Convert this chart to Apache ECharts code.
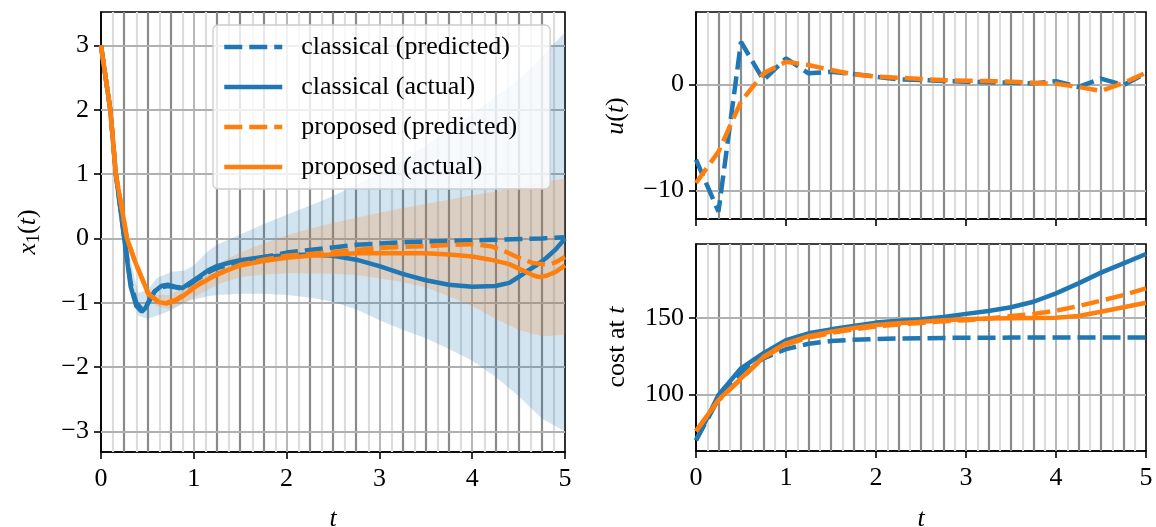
<!DOCTYPE html>
<html><head><meta charset="utf-8">
<script src="https://cdn.jsdelivr.net/npm/echarts@6/dist/echarts.min.js"></script>
<style>html,body{margin:0;padding:0;background:#fff}#c{width:1156px;height:527px}</style>
</head><body><div id="c"></div>
<script>
// ---------- data: left panel x1(t) ----------
const xClassicalActualT = [0,0.1,0.16,0.25,0.32,0.38,0.44,0.48,0.52,0.58,0.65,0.72,0.8,0.88,0.95,1.05,1.15,1.25,1.4,1.5,1.75,2.0,2.25,2.5,2.75,3.0,3.25,3.5,3.75,4.0,4.25,4.4,4.5,4.6,4.7,4.8,4.9,5.0];
const xClassicalActual  = [3,2.0,1.0,0.0,-0.75,-1.05,-1.14,-1.08,-0.97,-0.82,-0.74,-0.72,-0.75,-0.77,-0.7,-0.6,-0.5,-0.43,-0.37,-0.34,-0.29,-0.26,-0.25,-0.27,-0.33,-0.43,-0.55,-0.65,-0.72,-0.75,-0.74,-0.69,-0.6,-0.5,-0.41,-0.3,-0.17,0.0];
const xClassicalPredT = [0,0.1,0.16,0.25,0.32,0.38,0.44,0.5,0.58,0.65,0.72,0.8,0.88,0.95,1.05,1.15,1.25,1.5,1.75,2.0,2.25,2.5,2.75,3.0,3.25,3.5,3.75,4.0,4.25,4.5,4.75,5.0];
const xClassicalPred  = [3,2.0,1.0,0.02,-0.7,-1.0,-1.1,-1.02,-0.82,-0.76,-0.74,-0.76,-0.78,-0.72,-0.62,-0.53,-0.46,-0.36,-0.29,-0.22,-0.18,-0.14,-0.1,-0.08,-0.06,-0.05,-0.04,-0.03,-0.02,-0.01,0.0,0.02];
const xProposedActualT = [0,0.1,0.16,0.2,0.28,0.37,0.45,0.51,0.62,0.71,0.8,0.9,1.0,1.1,1.2,1.35,1.5,1.75,2.0,2.25,2.5,2.75,3.0,3.25,3.5,3.75,4.0,4.2,4.4,4.55,4.65,4.72,4.8,4.9,5.0];
const xProposedActual  = [3,2.0,1.0,0.67,0.0,-0.37,-0.65,-0.86,-0.99,-1.01,-0.97,-0.88,-0.77,-0.68,-0.6,-0.5,-0.42,-0.35,-0.3,-0.27,-0.25,-0.23,-0.23,-0.23,-0.23,-0.25,-0.28,-0.33,-0.4,-0.5,-0.57,-0.6,-0.58,-0.52,-0.42];
const xProposedPredT = [0,0.1,0.16,0.2,0.28,0.37,0.45,0.51,0.62,0.71,0.8,0.9,1.0,1.1,1.2,1.35,1.5,1.75,2.0,2.25,2.5,2.75,3.0,3.25,3.5,3.75,4.0,4.2,4.35,4.5,4.65,4.8,4.9,5.0];
const xProposedPred  = [3,2.0,1.0,0.67,0.0,-0.37,-0.65,-0.86,-0.98,-1.0,-0.96,-0.87,-0.76,-0.67,-0.59,-0.49,-0.41,-0.33,-0.27,-0.24,-0.21,-0.18,-0.15,-0.13,-0.12,-0.1,-0.09,-0.12,-0.2,-0.3,-0.38,-0.41,-0.37,-0.29];
// uncertainty bands
const bandT = [0,0.25,0.4,0.5,0.6,0.75,0.9,1.0,1.15,1.25,1.5,1.75,2,2.25,2.5,2.75,3,3.25,3.5,3.75,4,4.25,4.5,4.75,5];
const classicalLower = [3,-0.1,-1.2,-1.25,-1.2,-1.12,-1.0,-0.95,-0.9,-0.88,-0.86,-0.86,-0.88,-0.92,-0.99,-1.1,-1.27,-1.42,-1.55,-1.72,-1.9,-2.15,-2.45,-2.8,-3.0];
const classicalUpper = [3,0.1,-0.85,-0.8,-0.62,-0.52,-0.5,-0.42,-0.2,-0.1,0.06,0.22,0.37,0.51,0.66,0.83,1.02,1.22,1.45,1.69,1.94,2.2,2.47,2.82,3.21];
const proposedLower = [3,-0.05,-0.58,-0.93,-1.06,-1.1,-1.0,-0.92,-0.8,-0.72,-0.6,-0.56,-0.54,-0.54,-0.55,-0.57,-0.62,-0.68,-0.76,-0.9,-1.05,-1.25,-1.42,-1.52,-1.5];
const proposedUpper = [3,0.15,-0.42,-0.76,-0.88,-0.88,-0.72,-0.62,-0.47,-0.4,-0.22,-0.08,0.05,0.15,0.24,0.32,0.4,0.47,0.54,0.6,0.67,0.73,0.8,0.87,0.93];

// ---------- data: top-right u(t) ----------
const uT = [0,0.25,0.5,0.75,1.0,1.25,1.5,1.75,2.0,2.25,2.5,2.75,3.0,3.25,3.5,3.75,4.0,4.25,4.5,4.75,5.0];
const uClassical = [-7.1,-12.0,4.0,0.4,2.45,1.04,1.19,0.97,0.72,0.47,0.4,0.31,0.25,0.19,0.15,0.09,0.3,-0.25,0.53,-0.07,1.07];
const uProposed  = [-9.3,-6.35,-1.64,1.04,2.13,1.82,1.35,0.95,0.72,0.62,0.5,0.4,0.34,0.31,0.25,0.15,0.05,-0.25,-0.62,0.12,1.1];

// ---------- data: bottom-right cost ----------
const costT = uT;
const costClassicalActual = [70,99.6,117,126.8,135.4,139.8,142.4,144.6,146.8,148,149,150.5,152.5,154.4,156.8,160.4,165.9,172.4,179.4,185.5,191.6];
const costClassicalPred   = [70,97,114,123.5,129.5,133,134.8,135.6,136.1,136.4,136.6,136.8,136.9,136.9,137,137,137,137,137,137,137];
const costProposedActual  = [76,96.3,110.4,124.5,133.3,138,140.9,143.3,145.2,146.4,147.4,148.3,149,149.4,149.6,149.8,150,151.1,153.9,156.8,159.8];
const costProposedPred    = [76,96,110,124,132.5,137,140,142.4,144.3,145.6,146.6,147.6,148.4,149.5,151.1,152.4,154.6,157.6,161.1,164.8,169.2];

// ---------- ticks / time markers ----------
const xTicks = [0,1,2,3,4,5];
const yTicksX1 = [-3,-2,-1,0,1,2,3];
const yTicksU = [-10,0];
const yTicksCost = [100,150];
const darkTimes = [0.25,0.5,0.75,1.25,1.5,1.75,2.25,2.5,2.75,3.25,3.5,3.75,4.25,4.5,4.75];
const lightTimes = [0.125,0.375,0.625,0.875,1.125,1.375,1.625,1.875,2.125,2.375,2.625,2.875,3.125,3.375,3.625,3.875,4.125,4.375,4.625,4.875];
const names = ['classical (predicted)','classical (actual)','proposed (predicted)','proposed (actual)'];

// ---------- helpers ----------
const FONT = '"Liberation Serif", "DejaVu Serif", serif';
const BLUE = '#1f77b4', ORANGE = '#ff7f0e';
const DASH = [18, 7];
const LW = 4.5;
function pairs(ts, vs){ return ts.map((t,i)=>[t, vs[i]]); }
function fmt(v){ return v < 0 ? '\u2212' + Math.abs(v) : String(v); }

const grids = [
  {left:101, top:12, width:464, height:440},
  {left:696, top:12, width:450, height:207},
  {left:696, top:244, width:450, height:207}
].map(g => Object.assign(g, {show:true, borderColor:'#000', borderWidth:1.6, backgroundColor:'transparent', containLabel:false}));

function xAx(i, showLabel){
  return {type:'value', gridIndex:i, min:0, max:5, interval:1,
    axisLine:{show:true, onZero:false, lineStyle:{color:'#000', width:1.6}},
    axisTick:{show:true, length:7, lineStyle:{color:'#000', width:1.6}},
    axisLabel:{show:showLabel, fontSize:26, fontFamily:FONT, color:'#000', margin:14, formatter:fmt},
    splitLine:{show:false}};
}
function yAx(i, min, max, ticks){
  return {type:'value', gridIndex:i, min:min, max:max,
    axisLine:{show:true, onZero:false, lineStyle:{color:'#000', width:1.6}},
    axisTick:{show:true, length:7, lineStyle:{color:'#000', width:1.6}, customValues:ticks},
    axisLabel:{show:true, fontSize:26, fontFamily:FONT, color:'#000', margin:12, formatter:fmt, customValues:ticks},
    splitLine:{show:false}};
}

function decoSeries(i, yTicks){
  const vlines = darkTimes.map(t => ({xAxis:t, lineStyle:{color:'#8a8a8a', width:2.2, type:'solid'}}))
    .concat(lightTimes.map(t => ({xAxis:t, lineStyle:{color:'#dcdcdc', width:2.2, type:'solid'}})));
  const glines = xTicks.filter(t => t > 0 && t < 5).map(t => ({xAxis:t, lineStyle:{color:'#b0b0b0', width:1.8, type:'solid'}}))
    .concat(yTicks.map(v => ({yAxis:v, lineStyle:{color:'#b0b0b0', width:1.8, type:'solid'}})));
  const base = {type:'line', xAxisIndex:i, yAxisIndex:i, data:[], silent:true, symbol:'none'};
  return [
    Object.assign({}, base, {name:'_v'+i, z:1, markLine:{silent:true, z:1, symbol:['none','none'], label:{show:false}, emphasis:{disabled:true}, animation:false, data:vlines}}),
    Object.assign({}, base, {name:'_g'+i, z:1, markLine:{silent:true, z:1.5, symbol:['none','none'], label:{show:false}, emphasis:{disabled:true}, animation:false, data:glines}})
  ];
}
function band(nameKey, lower, upper, color){
  return {name:nameKey, type:'custom', xAxisIndex:0, yAxisIndex:0, silent:true, z:3, clip:true,
    data: bandT.map((t,i)=>[t, lower[i], upper[i]]),
    encode:{x:0, y:[1,2]},
    renderItem: function(params, api){
      if (params.dataIndex !== 0) return null;
      const pts = [];
      for (let i = 0; i < bandT.length; i++) pts.push(api.coord([bandT[i], upper[i]]));
      for (let i = bandT.length - 1; i >= 0; i--) pts.push(api.coord([bandT[i], lower[i]]));
      return {type:'polygon', shape:{points:pts}, style:{fill:color, stroke:null}};
    }};
}
function curve(i, name, ts, vs, color, dashed){
  return {name:name, type:'line', xAxisIndex:i, yAxisIndex:i, data:pairs(ts, vs), symbol:'none', showSymbol:false,
    lineStyle:{color:color, width:LW, type: dashed ? DASH : 'solid'}, itemStyle:{color:color}, z:10, silent:true};
}

const series = [].concat(
  decoSeries(0, yTicksX1), decoSeries(1, yTicksU), decoSeries(2, yTicksCost),
  [band('bandClassical', classicalLower, classicalUpper, 'rgba(31,119,180,0.2)'),
   band('bandProposed', proposedLower, proposedUpper, 'rgba(255,127,14,0.2)')],
  [
    curve(0, names[0], xClassicalPredT, xClassicalPred, BLUE, true),
    curve(0, names[1], xClassicalActualT, xClassicalActual, BLUE, false),
    curve(0, names[2], xProposedPredT, xProposedPred, ORANGE, true),
    curve(0, names[3], xProposedActualT, xProposedActual, ORANGE, false),
    curve(1, names[0], uT, uClassical, BLUE, true),
    curve(1, names[2], uT, uProposed, ORANGE, true),
    curve(2, names[0], costT, costClassicalPred, BLUE, true),
    curve(2, names[1], costT, costClassicalActual, BLUE, false),
    curve(2, names[2], costT, costProposedPred, ORANGE, true),
    curve(2, names[3], costT, costProposedActual, ORANGE, false)
  ]
);

const it = {fontSize:26, fontFamily:FONT, fontStyle:'italic', lineHeight:30, verticalAlign:'middle'};
const rm = {fontSize:26, fontFamily:FONT, lineHeight:30, verticalAlign:'middle'};
const sub = {fontSize:18, fontFamily:FONT, lineHeight:18, verticalAlign:'bottom'};
function label(x, y, text, rot){
  return {type:'text', x:x, y:y, rotation: rot ? Math.PI/2 : 0, silent:true, z:50,
    style:{text:text, rich:{i:it, r:rm, s:sub}, align:'center', verticalAlign:'middle', fill:'#000', font:'26px ' + FONT}};
}

const option = {
  animation:false,
  backgroundColor:'#fff',
  grid:grids,
  xAxis:[xAx(0,true), xAx(1,false), xAx(2,true)],
  yAxis:[yAx(0,-3.32,3.52,yTicksX1), yAx(1,-12.7,6.82,yTicksU), yAx(2,63,198.1,yTicksCost)],
  legend:{data:names, orient:'vertical', left:213, top:25, itemWidth:58, itemHeight:26, itemGap:14,
    padding:[9,33,9,9], backgroundColor:'rgba(255,255,255,0.8)', borderColor:'#cccccc', borderWidth:1.3, borderRadius:5,
    itemStyle:{opacity:0, borderWidth:0},
    lineStyle:{width:LW, type:'inherit', color:'inherit'},
    textStyle:{fontSize:26, fontFamily:FONT, color:'#000', lineHeight:26, padding:[0,0,0,14]}, z:20, selectedMode:false},
  graphic:[
    label(28, 232, '{i|x}{s|1}{r|(}{i|t}{r|)}', true),
    label(616, 116, '{i|u}{r|(}{i|t}{r|)}', true),
    label(617, 347, '{r|cost at }{i|t}', true),
    label(333, 519, '{i|t}', false),
    label(921, 519, '{i|t}', false)
  ],
  series:series
};
const chart = echarts.init(document.getElementById('c'), null, {renderer:'canvas'});
chart.setOption(option);
</script></body></html>
